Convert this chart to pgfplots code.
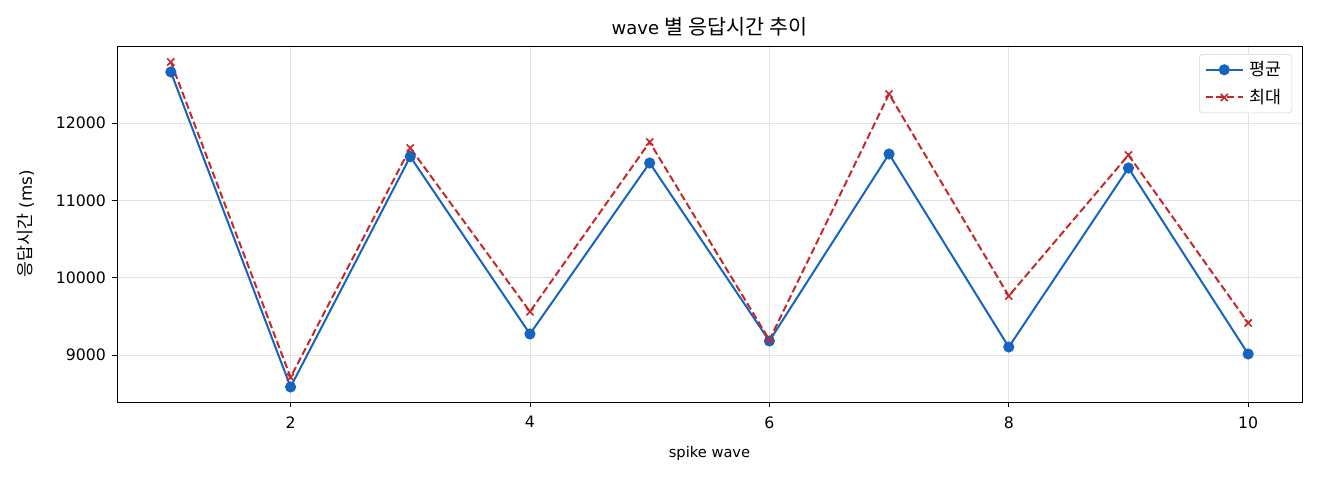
\documentclass[border=0pt]{standalone}
\usepackage{fontspec}
\setmainfont{DejaVu Sans}
\newfontfamily\kr{Noto Sans CJK KR}
\usepackage{pgfplots}
\pgfplotsset{compat=1.18}

\definecolor{avgblue}{HTML}{1565C0}
\definecolor{maxred}{HTML}{C62828}

\begin{document}
\begin{tikzpicture}
\begin{axis}[
    scale only axis,
    width=888.75pt, height=267pt,
    xmin=0.55, xmax=10.45,
    ymin=8392, ymax=12996,
    xtick={2,4,6,8,10},
    ytick={9000,10000,11000,12000},
    scaled ticks=false,
    tick style={black, line width=0.6pt},
    tick align=outside,
    major tick length=3.8pt,
    xtick pos=bottom, ytick pos=left,
    /pgf/number format/1000 sep={},
    /pgf/number format/assume math mode=true,
    ticklabel style={font=\fontsize{11.8}{13}\selectfont},
    xticklabel style={yshift=-3.5pt},
    yticklabel style={xshift=-1pt},
    grid=major,
    grid style={gray!22, line width=0.6pt},
    axis line style={line width=0.7pt},
    title={\fontsize{13.5}{15}\selectfont wave {\kr\fontsize{15.5}{16}\selectfont 별 응답시간 추이}},
    title style={yshift=-2pt},
    xlabel={spike wave},
    ylabel={{\kr\fontsize{13}{14}\selectfont 응답시간} (ms)},
    xlabel style={font=\fontsize{11}{12}\selectfont, at={(axis description cs:0.5,-0.112)}, anchor=north},
    ylabel style={font=\fontsize{12.5}{13}\selectfont, at={(axis description cs:-0.066,0.5)}, anchor=south},
    legend style={at={(axis description cs:0.9916,0.9775)}, anchor=north east,
        draw=gray!35, rounded corners=2.5pt, font=\kr\fontsize{13}{14}\selectfont,
        row sep=4.5pt, inner xsep=4pt, inner ysep=3.5pt,
        nodes={inner xsep=4pt}},
    legend cell align=left,
    legend image code/.code={
        \draw[mark repeat=2,mark phase=2,#1] plot coordinates {(0cm,0cm)(0.49cm,0cm)(0.98cm,0cm)};
    },
]
\addplot[color=avgblue, line width=1.5pt, mark=*, mark size=3.4pt,
    mark options={fill=avgblue, draw=avgblue}]
coordinates {
(1,12660)(2,8586)(3,11565)(4,9272)(5,11483)(6,9181)(7,11599)(8,9103)(9,11418)(10,9013)
};
\addplot[color=maxred, line width=1.5pt, dash pattern=on 5.5pt off 2.5pt, mark=x, mark size=3.8pt,
    mark options={solid, line width=1.2pt}]
coordinates {
(1,12789)(2,8712)(3,11677)(4,9560)(5,11754)(6,9194)(7,12375)(8,9763)(9,11586)(10,9414)
};
\legend{평균,최대}
\end{axis}
\path ([shift={(-87.75pt,-58pt)}]current axis.south west) rectangle ([shift={(13.5pt,34.5pt)}]current axis.north east);
\end{tikzpicture}
\end{document}
